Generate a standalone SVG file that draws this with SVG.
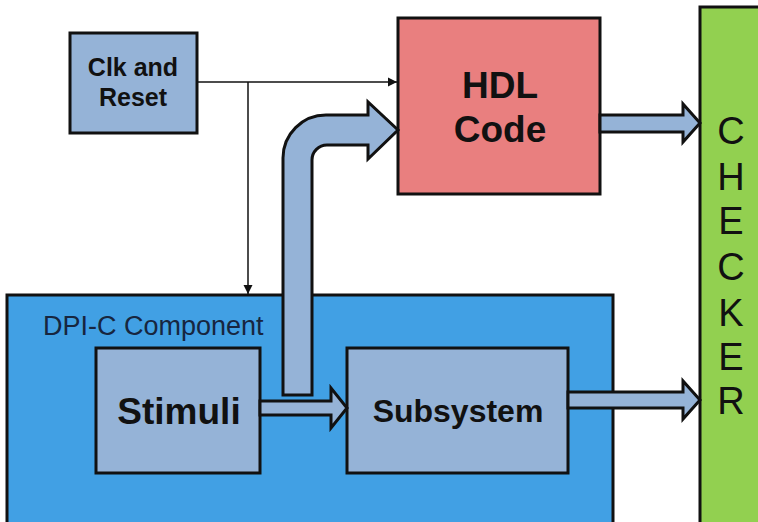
<svg xmlns="http://www.w3.org/2000/svg" width="758" height="522" viewBox="0 0 758 522">
<defs>
<style>
.box{stroke:#111;stroke-width:3}
.lb{fill:#95B3D7}
.fat{fill:#95B3D7;stroke:#111;stroke-width:3;stroke-linejoin:miter}
.thin{fill:none;stroke:#111;stroke-width:1.5}
text{font-family:"Liberation Sans",Arial,sans-serif;fill:#111;text-anchor:middle}
</style>
<marker id="ah" markerWidth="10" markerHeight="10" refX="9" refY="5" orient="auto" markerUnits="userSpaceOnUse">
<path d="M0,0.5 L9,5 L0,9.5 Z" fill="#111"/>
</marker>
</defs>
<rect width="758" height="522" fill="#fff"/>
<g id="checker">
<rect class="box" x="700" y="7" width="62" height="520" fill="#92D050"/>
<text x="731" y="144" font-size="38">C</text>
<text x="731" y="190" font-size="38">H</text>
<text x="731" y="234" font-size="38">E</text>
<text x="731" y="280" font-size="38">C</text>
<text x="731" y="326" font-size="38">K</text>
<text x="731" y="370" font-size="38">E</text>
<text x="731" y="414" font-size="38">R</text>
</g>
<g id="dpi">
<rect class="box" x="7" y="295" width="606" height="232" fill="#41A0E4"/>
<text x="43" y="335" font-size="27" style="text-anchor:start;fill:#17263f">DPI-C Component</text>
</g>
<g id="clk">
<rect class="box lb" x="70" y="33" width="127" height="100"/>
<text x="133" y="76" font-size="25" font-weight="bold">Clk and</text>
<text x="133" y="106" font-size="25" font-weight="bold">Reset</text>
</g>
<g id="hdl">
<rect class="box" x="398" y="18" width="202" height="176" fill="#E97F7F"/>
<text x="500" y="98" font-size="37" font-weight="bold">HDL</text>
<text x="500" y="142" font-size="37" font-weight="bold">Code</text>
</g>
<g id="stimuli">
<rect class="box lb" x="96" y="348" width="164" height="125"/>
<text x="179" y="424" font-size="37" font-weight="bold">Stimuli</text>
</g>
<g id="subsystem">
<rect class="box lb" x="347" y="348" width="221" height="125"/>
<text x="458" y="422" font-size="32" font-weight="bold">Subsystem</text>
</g>
<g id="connectors">
<path class="thin" d="M197,82 H397" marker-end="url(#ah)"/>
<path class="thin" d="M248,82 V294" marker-end="url(#ah)"/>
<path class="fat" d="M260,401 H331 V388 L347,408 L331,428 V415 H260 Z"/>
<path class="fat" d="M283,395 V158 A43,43 0 0 1 326,115 H368 V102 L398,130 L368,159 V145 H327 A15,15 0 0 0 312,160 V395 Z"/>
<path class="fat" d="M600,115 H683 V104 L700,123 L683,142 V132 H600 Z"/>
<path class="fat" d="M568,392 H683 V381 L700,400 L683,419 V408 H568 Z"/>
</g>
</svg>
